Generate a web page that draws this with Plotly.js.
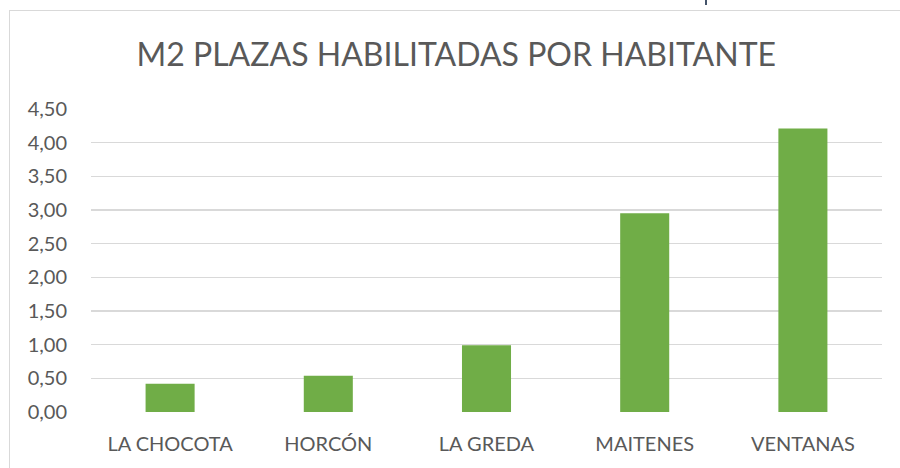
<!DOCTYPE html>
<html>
<head>
<meta charset="utf-8">
<script src="https://cdn.plot.ly/plotly-3.0.1.min.js"></script>
<style>
  html, body { margin: 0; padding: 0; background: #ffffff; }
  #wrap { position: relative; width: 900px; height: 468px; overflow: hidden; }
  #frame { position: absolute; left: 9px; top: 10px; width: 1000px; height: 1000px;
           border-left: 1.5px solid #d9d9d9; border-top: 1.5px solid #d9d9d9; box-sizing: border-box; }
  #mark { position: absolute; left: 705px; top: 0px; width: 2px; height: 5px; background: #44546a; }
  #chart { position: absolute; left: 0; top: 0; width: 900px; height: 468px; }
</style>
</head>
<body>
<div id="wrap">
  <div id="frame"></div>
  <div id="mark"></div>
  <div id="chart"></div>
</div>
<script>
const categories = ["LA CHOCOTA", "HORCÓN", "LA GREDA", "MAITENES", "VENTANAS"];
const values = [0.42, 0.54, 0.99, 2.95, 4.21];
const tickValues = [0, 0.5, 1, 1.5, 2, 2.5, 3, 3.5, 4, 4.5];
const tickLabels = ["0,00", "0,50", "1,00", "1,50", "2,00", "2,50", "3,00", "3,50", "4,00", "4,50"];
const chartTitle = "M2 PLAZAS HABILITADAS POR HABITANTE";

const trace = {
  type: "bar",
  x: categories,
  y: values,
  marker: { color: "#70ad47" },
  hoverinfo: "none"
};

const layout = {
  width: 900,
  height: 468,
  paper_bgcolor: "rgba(0,0,0,0)",
  plot_bgcolor: "rgba(0,0,0,0)",
  margin: { l: 91, r: 18, t: 109, b: 56 },
  bargap: 0.69,
  showlegend: false,
  font: { family: "Lato, 'Open Sans', sans-serif", color: "#595959" },
  title: {
    text: chartTitle,
    font: { family: "Lato, 'Open Sans', sans-serif", size: 32, color: "#595959" },
    xref: "container", x: 0.507, xanchor: "center",
    yref: "container", y: 0.883, yanchor: "middle"
  },
  xaxis: {
    type: "category",
    showgrid: false,
    showline: false,
    zeroline: false,
    ticks: "",
    ticklabelstandoff: 18,
    tickfont: { size: 20, color: "#595959" }
  },
  yaxis: {
    range: [0, 4.5],
    tickmode: "array",
    tickvals: tickValues,
    ticktext: tickLabels,
    showgrid: true,
    gridcolor: "#d9d9d9",
    gridwidth: 1.3,
    zeroline: false,
    showline: false,
    ticks: "",
    ticklabelstandoff: 23,
    tickfont: { size: 20, color: "#595959" }
  }
};

Plotly.newPlot("chart", [trace], layout, { staticPlot: true, displayModeBar: false });
</script>
</body>
</html>
